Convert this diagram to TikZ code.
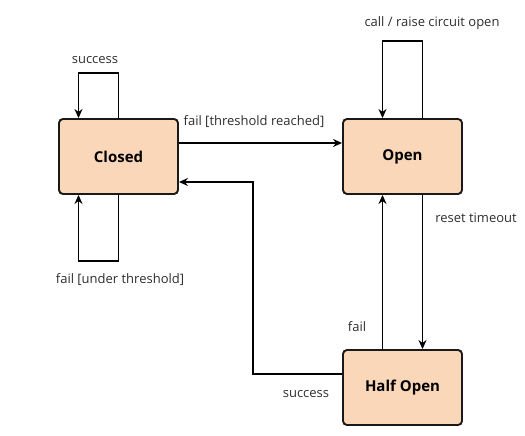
\documentclass[tikz,border=0pt]{standalone}
\usepackage{fontspec}
\setmainfont{Open Sans}
\usetikzlibrary{arrows.meta}
\definecolor{statefill}{HTML}{FAD7B9}
\definecolor{labelgray}{HTML}{2E2E2E}
\tikzset{
    state/.style={draw=black!90, line width=1.9pt, fill=statefill, rounded corners=4pt,
        minimum width=119pt, minimum height=75pt, font=\bfseries\fontsize{15}{17}\selectfont},
    edge/.style={-{Stealth[length=9pt,width=8pt]}, line width=1.7pt},
    lbl/.style={text=labelgray, font=\fontsize{13}{15}\selectfont}
}
\begin{document}
\begin{tikzpicture}[x=1pt,y=-1pt]
        \useasboundingbox (0,0) rectangle (525,436);
        \node[state] (closed) at (118.5,156.5) {Closed};
        \node[state] (open) at (402.5,156.5) {Open};
        \node[state] (half) at (402.5,387.5) {Half Open};
        \coordinate (bend) at (253,182);
        % self loops
        \draw[edge] (closed.north) -- ++(0,-45) -| ([xshift=-40pt]closed.north);
        \draw[edge] (closed.south) -- ++(0,66) -| ([xshift=-40pt]closed.south);
        \draw[edge] ([xshift=20pt]open.north) -- ++(0,-77) -| ([xshift=-20pt]open.north);
        % transitions
        \draw[edge] ([yshift=13.5pt]closed.east) -- ([yshift=13.5pt]open.west);
        \draw[edge] ([xshift=20pt]open.south) -- ([xshift=20pt]half.north);
        \draw[edge] ([xshift=-20pt]half.north) -- ([xshift=-20pt]open.south);
        \draw[edge] ([yshift=13.5pt]half.west) -| (bend) -- ([yshift=-25.5pt]closed.east);
        % labels
        \node[lbl] (lsuccess) at (95,60) {success};
        \node[lbl] (lunder) at (120,280) {fail [under threshold]};
        \node[lbl] (lreached) at (254,122) {fail [threshold reached]};
        \node[lbl] (lcall) at (432,23) {call / raise circuit open};
        \node[lbl] (lreset) at (476,218) {reset timeout};
        \node[lbl] (lfail) at (357,327) {fail};
        \node[lbl] (lback) at (306,394) {success};
\end{tikzpicture}
\end{document}
